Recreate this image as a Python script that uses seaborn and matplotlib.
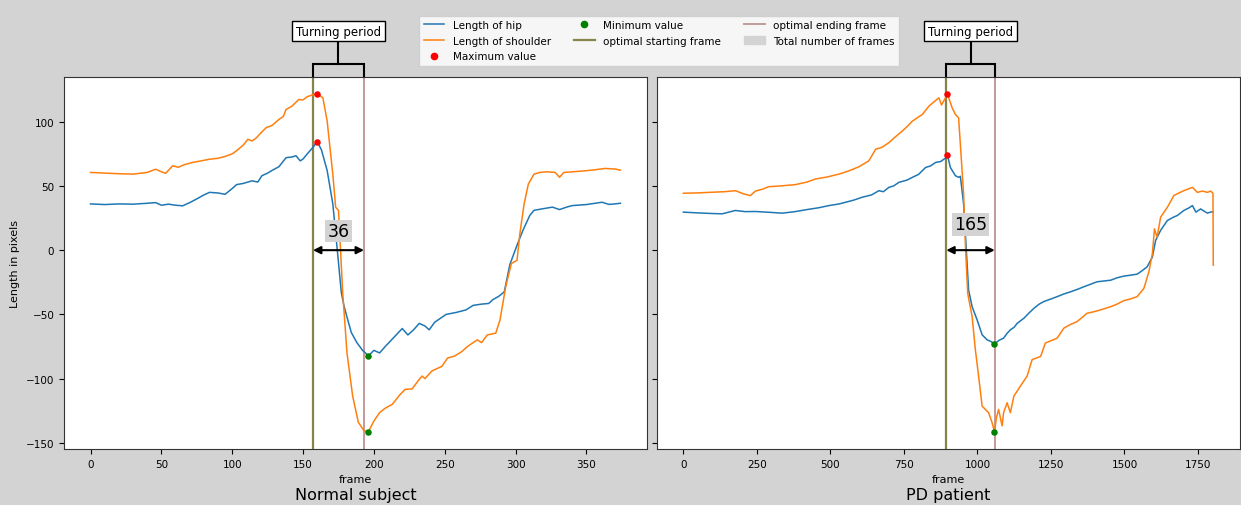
import numpy as np
import pandas as pd
import matplotlib
matplotlib.use("Agg")
import matplotlib.pyplot as plt
from matplotlib.lines import Line2D
from matplotlib.patches import Patch
import seaborn as sns

# ---------------- data ----------------
panel_titles = ["Normal subject", "PD patient"]

# Normal subject
normal_hip_frame = [0, 10, 20, 30, 40, 46, 50, 55, 60, 65, 70, 76, 80, 84, 90, 95, 100, 103, 108, 114,
                    118, 121, 125, 128, 133, 138, 142, 145, 148, 150, 153, 157, 160, 163, 167, 171, 174,
                    177, 179, 184, 188, 192, 194, 196, 200, 204, 208, 214, 220, 224, 228, 232, 236, 239,
                    243, 247, 251, 258, 265, 270, 276, 281, 284, 288, 292, 296, 301, 305, 310, 313, 318,
                    326, 331, 336, 340, 350, 361, 366, 370, 374]
normal_hip = [36, 35.5, 36, 35.8, 36.5, 37, 35, 35.8, 35, 34.5, 37, 40.5, 43, 45, 44.5, 43.5, 48, 51, 52, 54,
              53, 58, 60, 62, 65, 72, 72.5, 73.5, 69.5, 71, 75, 80, 84.5, 78, 62, 36, 2,
              -33, -44, -64, -72, -78, -80, -82.4, -78, -80, -75, -68, -61, -66, -62, -57, -59, -62,
              -56, -53, -50, -48.5, -46.5, -43, -42, -41.5, -38.5, -36, -32.5, -11, 3.8, 15, 27, 31, 32,
              33.5, 31.6, 33.5, 34.7, 35.5, 37.3, 35.6, 36, 36.5]

normal_shoulder_frame = [0, 10, 20, 30, 40, 46, 50, 53, 58, 62, 66, 72, 78, 84, 90, 95, 100, 103, 108, 111,
                         114, 117, 120, 124, 128, 133, 136, 138, 142, 147, 150, 153, 157, 160, 164, 167,
                         171, 173, 175, 178, 181, 185, 189, 193, 196, 200, 204, 208, 213, 218, 222, 227,
                         231, 234, 236, 241, 248, 252, 257, 262, 266, 270, 273, 276, 280, 286, 289, 293,
                         297, 301, 303, 306, 309, 313, 317, 322, 328, 331, 334, 340, 346, 354, 363, 370, 374]
normal_shoulder = [60.5, 60, 59.5, 59.2, 60.5, 63, 61, 59.8, 65.7, 64.5, 66.5, 68.3, 69.5, 70.8, 71.5, 73, 75,
                   77.3, 82, 86.3, 85, 87.4, 91, 95.4, 97, 101.8, 104, 109.5, 112, 117.3, 117, 119.5, 121,
                   121.7, 118.6, 100.5, 59, 33.4, 31, -33.6, -80, -113.6, -134, -140.5, -141.5, -133,
                   -126.5, -123, -120, -113, -108.4, -108, -102, -98, -100, -94, -90.4, -84, -82.4, -79,
                   -75, -72, -69.8, -72, -66, -64.6, -54.3, -28.5, -10.4, -7.9, 12.8, 36, 51.5, 59.2, 60.5,
                   61, 60.5, 56.7, 60.5, 61, 61.5, 62.3, 63.6, 63.2, 62.3]

# PD patient
pd_hip_frame = [0, 50, 100, 132, 177, 210, 245, 290, 336, 380, 415, 460, 495, 530, 552, 580, 608, 640, 665,
                680, 699, 715, 733, 760, 779, 800, 824, 840, 858, 875, 886, 894, 898, 908, 925, 936, 942,
                953, 961, 970, 982, 999, 1016, 1033, 1045, 1058, 1075, 1089, 1100, 1112, 1125, 1135, 1158,
                1175, 1192, 1210, 1226, 1250, 1271, 1295, 1317, 1340, 1362, 1385, 1407, 1430, 1453, 1475,
                1498, 1520, 1543, 1560, 1577, 1595, 1606, 1623, 1646, 1665, 1680, 1702, 1720, 1731, 1743,
                1759, 1770, 1782, 1795, 1802]
pd_hip = [29.6, 29, 28.5, 28.3, 30.9, 30, 30.1, 29.5, 28.8, 30, 31.4, 33, 34.7, 36, 37.3, 39, 41.2, 43, 46.3,
          45.5, 48.9, 50, 52.8, 54.5, 56.7, 59, 64.4, 65.5, 68.3, 69, 70.8, 72, 74.2, 64.4, 58, 56.7, 57.5,
          36, 5, -31, -44, -54.3, -65.9, -69.8, -71, -72.8, -70, -68.5, -65, -62, -60, -57, -53,
          -49, -45.3, -42, -40, -38, -36.2, -34, -32.4, -30.5, -28.5, -26.5, -24.6, -24, -23.4, -21.5,
          -20.2, -19.5, -18.7, -16, -13, -5.3, 7.6, 15.4, 23.1, 25.5, 27, 30.9, 33, 34.7, 29.6,
          32.1, 30.5, 28.8, 29.8, 29.6]

pd_shoulder_frame = [0, 50, 98, 140, 177, 205, 228, 245, 270, 290, 330, 381, 420, 449, 490, 529, 560, 597,
                     631, 654, 675, 699, 720, 745, 760, 779, 813, 835, 855, 869, 878, 890, 898, 914, 925,
                     936, 942, 953, 959, 967, 982, 993, 1004, 1016, 1027, 1038, 1050, 1058, 1065, 1072,
                     1084, 1089, 1101, 1112, 1124, 1146, 1169, 1186, 1200, 1215, 1231, 1250, 1271, 1294,
                     1315, 1339, 1373, 1395, 1419, 1453, 1475, 1498, 1520, 1543, 1566, 1583, 1595, 1602,
                     1611, 1623, 1646, 1668, 1685, 1702, 1731, 1748, 1765, 1782, 1793, 1801, 1802]
pd_shoulder = [44.3, 44.6, 45.1, 45.5, 46.3, 43.8, 42.5, 46, 47.5, 49.4, 50, 51, 53, 55.4, 57, 59.2, 61.5, 64.9,
               69.6, 78.6, 80, 83.7, 88, 92.8, 96, 100.5, 105.7, 112.1, 116, 118.6, 113, 118, 121.7, 110.8,
               105.7, 103, 82.4, 43.7, 5, -33.6, -51.7, -77.5, -98, -121.4, -124, -126.5, -134.3, -141.5,
               -130, -124, -136.8, -126.5, -118.8, -126.5, -113.6, -105.9, -98, -85.2, -84, -82.7, -72.3,
               -70.5, -68.5, -60.7, -58, -55.6, -49.1, -48, -46.5, -44, -42, -39.3, -38, -36.2, -29.8,
               -16.9, -2.7, 16.6, 10, 25.7, 33.4, 42.5, 44.5, 46.3, 48.9, 45, 46, 45, 46, 44.3, -11.7]

# optimal turning window (start, end) per subject
start_frames = [157, 894]
end_frames = [193, 1059]

panels = [
    (normal_hip_frame, normal_hip, normal_shoulder_frame, normal_shoulder),
    (pd_hip_frame, pd_hip, pd_shoulder_frame, pd_shoulder),
]

# ---------------- style ----------------
BG = "lightgrey"
HIP_C = "C0"
SHO_C = "C1"
START_C = "#85854a"
END_C = "rosybrown"
count_label_y = [15, 20]

fig, axes = plt.subplots(1, 2, sharey=True, figsize=(12.41, 5.06), dpi=100, facecolor=BG)
fig.subplots_adjust(left=0.0516, right=0.999, top=0.846, bottom=0.111, wspace=0.017)

for i, ax in enumerate(axes):
    hf, hv, sf, sv = panels[i]
    hip_df = pd.DataFrame({"frame": hf, "length": hv})
    sho_df = pd.DataFrame({"frame": sf, "length": sv})
    sns.lineplot(data=hip_df, x="frame", y="length", ax=ax, color=HIP_C, lw=1.1,
                 estimator=None, sort=False)
    sns.lineplot(data=sho_df, x="frame", y="length", ax=ax, color=SHO_C, lw=1.1,
                 estimator=None, sort=False)

    # extreme points of both series
    ext = []
    for f, v in ((hf, hv), (sf, sv)):
        v = np.asarray(v)
        ext.append((f[int(np.argmax(v))], v.max(), f[int(np.argmin(v))], v.min()))
    max_df = pd.DataFrame({"frame": [e[0] for e in ext], "length": [e[1] for e in ext]})
    min_df = pd.DataFrame({"frame": [e[2] for e in ext], "length": [e[3] for e in ext]})
    sns.scatterplot(data=max_df, x="frame", y="length", ax=ax, color="red", s=22, linewidth=0, zorder=5)
    sns.scatterplot(data=min_df, x="frame", y="length", ax=ax, color="green", s=22, linewidth=0, zorder=5)

    s, e = start_frames[i], end_frames[i]
    ax.axvline(s, color=START_C, lw=1.6, zorder=1)
    ax.axvline(e, color=END_C, lw=1.4, alpha=0.9, zorder=1)

    # turning window length arrow
    ax.annotate("", xy=(s, 0), xytext=(e, 0),
                arrowprops=dict(arrowstyle="<|-|>", color="black", lw=1.5,
                                shrinkA=0, shrinkB=0, mutation_scale=11))
    ax.text((s + e) / 2, count_label_y[i], str(e - s), ha="center", va="center", fontsize=12.5,
            bbox=dict(boxstyle="square,pad=0.12", fc=BG, ec="none"), zorder=6)

    # bracket above the window
    tr = ax.get_xaxis_transform()
    mid = (s + e) / 2
    ax.plot([s, s, e, e], [1.0, 1.036, 1.036, 1.0], transform=tr, color="black", lw=1.5,
            clip_on=False, solid_joinstyle="miter")
    ax.plot([mid, mid], [1.036, 1.12], transform=tr, color="black", lw=1.5, clip_on=False)
    ax.text(mid, 1.123, "Turning period", transform=tr, ha="center", va="center", fontsize=8.5,
            bbox=dict(boxstyle="square,pad=0.3", fc="white", ec="black", lw=1), zorder=6,
            clip_on=False)

    ax.set_facecolor("white")
    ax.set_xlabel("frame", fontsize=8)
    ax.set_ylabel("Length in pixels" if i == 0 else "", fontsize=8)
    ax.tick_params(labelsize=7.5, length=3.5)
    ax.text(0.5, -0.124, panel_titles[i], transform=ax.transAxes, ha="center", va="center",
            fontsize=11.5)
    for sp in ax.spines.values():
        sp.set_color("#333333")
        sp.set_linewidth(0.8)

handles = [
    Line2D([], [], color=HIP_C, lw=1.1),
    Line2D([], [], color=SHO_C, lw=1.1),
    Line2D([], [], color="red", marker="o", ls="", markersize=4.5),
    Line2D([], [], color="green", marker="o", ls="", markersize=4.5),
    Line2D([], [], color=START_C, lw=1.6),
    Line2D([], [], color=END_C, lw=1.4, alpha=0.9),
    Patch(color=BG),
]
labels = ["Length of hip", "Length of shoulder", "Maximum value", "Minimum value",
          "optimal starting frame", "optimal ending frame", "Total number of frames"]
fig.legend(handles, labels, loc="upper center", bbox_to_anchor=(0.531, 0.977), ncol=3,
           fontsize=7.5, framealpha=0.8, fancybox=False, edgecolor="0.8",
           labelspacing=0.55, columnspacing=2.2)

fig.savefig("out.png", dpi=100, facecolor=BG)
